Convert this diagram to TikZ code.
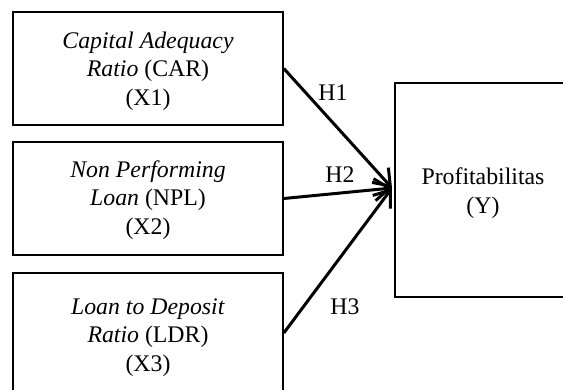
\documentclass[tikz,border=0pt]{standalone}
\usepackage{fontspec}
\setmainfont{Liberation Serif}
\usetikzlibrary{arrows.meta}
\begin{document}
\begin{tikzpicture}[x=1pt,y=1pt,
  varbox/.style={draw,line width=1.6pt,minimum width=270pt,minimum height=113pt,inner sep=0pt},
  vartext/.style={align=center,inner sep=0pt,font=\fontsize{23.8}{28.5}\selectfont},
  arr/.style={line width=3pt,-{Straight Barb[length=15pt,width=22pt,line width=3pt]}},
  hlab/.style={font=\fontsize{23.8}{28.5}\selectfont,inner sep=0pt}]
\useasboundingbox (0,0) rectangle (563,-389);
\node[varbox] (X1) at (148,-68.5) {};
\node[varbox] (X2) at (148,-198.5) {};
\node[varbox,minimum height=124pt] (X3) at (148,-335) {};
\node[varbox,minimum width=180pt,minimum height=214pt] (Y) at (485,-190) {};
\node[vartext] (X1t) at (148,-71) {\textit{Capital Adequacy}\\\textit{Ratio} (CAR)\\(X1)};
\node[vartext] (X2t) at (148,-200) {\textit{Non Performing}\\\textit{Loan} (NPL)\\(X2)};
\node[vartext] (X3t) at (148,-337.5) {\textit{Loan to Deposit}\\\textit{Ratio} (LDR)\\(X3)};
\node[vartext] (Yt) at (483,-193) {Profitabilitas\\(Y)};
\coordinate (tip) at (392,-188);
\draw[arr] (X1.east) -- (tip);
\draw[arr] (X2.east) -- (tip);
\draw[arr] ([yshift=2pt]X3.east) -- (tip);
\node[hlab] (h1) at (333,-93) {H1};
\node[hlab] (h2) at (340,-175) {H2};
\node[hlab] (h3) at (345,-307) {H3};
\end{tikzpicture}
\end{document}
